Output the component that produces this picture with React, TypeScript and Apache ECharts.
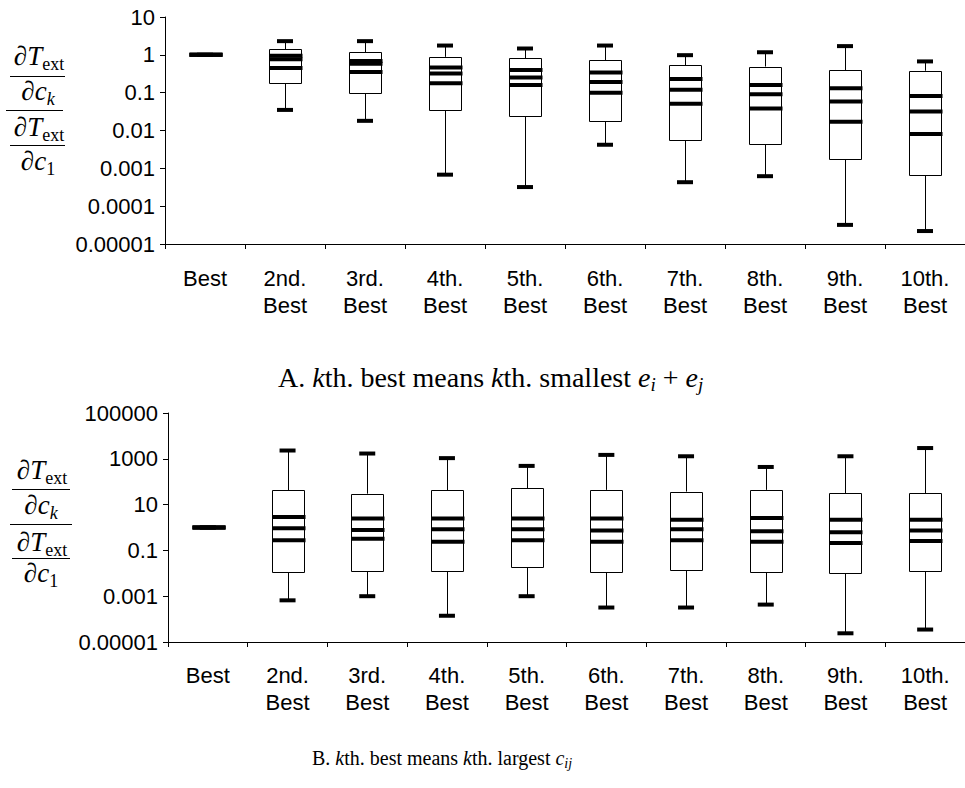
import React, { useEffect, useRef } from "react";
import * as echarts from "echarts";

// ---------- data ----------
const categories = [
  "Best",
  "2nd.\nBest",
  "3rd.\nBest",
  "4th.\nBest",
  "5th.\nBest",
  "6th.\nBest",
  "7th.\nBest",
  "8th.\nBest",
  "9th.\nBest",
  "10th.\nBest",
];

const yTicksA = ["0.00001", "0.0001", "0.001", "0.01", "0.1", "1", "10"];
const yTicksB = ["0.00001", "0.001", "0.1", "10", "1000", "100000"];

// Panel A: kth smallest e_i + e_j
const aCapHigh = [1, 2.3, 2.3, 1.76, 1.47, 1.76, 0.98, 1.17, 1.7, 0.67];
const aBoxHigh = [1, 1.41, 1.18, 0.885, 0.8, 0.72, 0.53, 0.49, 0.39, 0.38];
const aLine1 = [1, 0.94, 0.69, 0.46, 0.4, 0.34, 0.23, 0.16, 0.13, 0.082];
const aLine2 = [1, 0.76, 0.58, 0.32, 0.25, 0.19, 0.12, 0.091, 0.058, 0.032];
const aLine3 = [1, 0.45, 0.35, 0.178, 0.16, 0.1, 0.051, 0.038, 0.017, 0.0081];
const aBoxLow = [1, 0.178, 0.1, 0.035, 0.024, 0.018, 0.0055, 0.0045, 0.0017, 0.00068];
const aCapLow = [1, 0.035, 0.018, 0.00068, 0.00032, 0.0042, 0.00043, 0.00062, 0.000032, 0.000022];

// Panel B: kth largest c_ij
const bCapHigh = [1, 2300, 1700, 1070, 490, 1480, 1290, 440, 1290, 2950];
const bBoxHigh = [1, 42, 30, 42, 51, 44, 37, 44, 32, 32];
const bLine1 = [1, 2.9, 2.5, 2.5, 2.5, 2.5, 2.2, 2.6, 2.2, 2.2];
const bLine2 = [1, 0.92, 0.78, 0.83, 0.83, 0.74, 0.83, 0.68, 0.62, 0.74];
const bLine3 = [1, 0.28, 0.32, 0.24, 0.28, 0.24, 0.28, 0.24, 0.21, 0.26];
const bBoxLow = [1, 0.011, 0.013, 0.012, 0.019, 0.012, 0.0145, 0.012, 0.0098, 0.012];
const bCapLow = [1, 0.00066, 0.001, 0.00014, 0.001, 0.00032, 0.00032, 0.00043, 0.000024, 0.000035];

// ---------- helpers ----------
const toY = (v: number) => Math.log10(v) + 5; // decades above 0.00001

function buildBoxData(
  capHigh: number[],
  boxHigh: number[],
  l1: number[],
  l2: number[],
  l3: number[],
  boxLow: number[],
  capLow: number[]
) {
  return categories.map((_, i) => [
    i,
    toY(capHigh[i]),
    toY(boxHigh[i]),
    toY(l1[i]),
    toY(l2[i]),
    toY(l3[i]),
    toY(boxLow[i]),
    toY(capLow[i]),
  ]);
}

const BOX_W = 32;
const CAP_W = 16;
const THICK = 4;

const renderBox = (_params: any, api: any) => {
  const i = api.value(0);
  const py = (k: number) => api.coord([i, api.value(k)])[1];
  const cx = api.coord([i, api.value(1)])[0];
  const xl = Math.round(cx - BOX_W / 2) + 0.5;
  const xc = Math.round(cx) + 0.5;
  const yCapH = py(1);
  const yBoxH = py(2);
  const yL = [py(3), py(4), py(5)];
  const yBoxL = py(6);
  const yCapL = py(7);
  const children: any[] = [];
  const black = "#000";
  if (yBoxL - yBoxH > 0.5) {
    children.push({
      type: "line",
      shape: { x1: xc, y1: yCapH, x2: xc, y2: yBoxH },
      style: { stroke: black, lineWidth: 1 },
    });
    children.push({
      type: "line",
      shape: { x1: xc, y1: yBoxL, x2: xc, y2: yCapL },
      style: { stroke: black, lineWidth: 1 },
    });
    children.push({
      type: "rect",
      shape: { x: xl, y: Math.round(yBoxH) + 0.5, width: BOX_W, height: Math.round(yBoxL - yBoxH) },
      style: { fill: "#fff", stroke: black, lineWidth: 1 },
    });
  }
  [yCapH, yCapL].forEach((y) => {
    children.push({
      type: "rect",
      shape: { x: cx - CAP_W / 2, y: y - THICK / 2, width: CAP_W, height: THICK },
      style: { fill: black },
    });
  });
  yL.forEach((y) => {
    children.push({
      type: "rect",
      shape: { x: xl, y: y - THICK / 2, width: BOX_W + 1, height: THICK },
      style: { fill: black },
    });
  });
  return { type: "group", children };
};

const SANS = '"Liberation Sans", Arial, Helvetica, sans-serif';
const SERIF = '"Liberation Serif", "Times New Roman", "DejaVu Serif", serif';

const FS = 27; // fraction main font size
const FSS = 18; // fraction subscript font size

function fracText(x: number, y: number, text: string, rich: any) {
  return {
    type: "text",
    x,
    y,
    style: {
      text,
      font: `${FS}px ${SERIF}`,
      fill: "#000",
      align: "center",
      verticalAlign: "middle",
      rich,
    },
  };
}

const fracRich = {
  d: { font: `${FS}px ${SERIF}`, fill: "#000" },
  t: { font: `italic ${FS}px ${SERIF}`, fill: "#000" },
  c: { font: `italic ${FS}px ${SERIF}`, fill: "#000" },
  s: { font: `${FSS}px ${SERIF}`, fill: "#000", padding: [15, 0, 0, 0] },
  si: { font: `italic ${FSS}px ${SERIF}`, fill: "#000", padding: [15, 0, 0, 0] },
};

function hline(x1: number, x2: number, y: number) {
  return {
    type: "line",
    shape: { x1, y1: y + 0.5, x2, y2: y + 0.5 },
    style: { stroke: "#000", lineWidth: 1 },
  };
}

function yTitle(cx: number, pos: number[], lines: number[][]) {
  return [
    fracText(cx + 1, pos[0], "{d|∂}{t|T}{s|ext}", fracRich),
    hline(lines[0][0], lines[0][1], pos[1]),
    fracText(cx, pos[2], "{d|∂}{c|c}{si|k}", fracRich),
    hline(lines[1][0], lines[1][1], pos[3]),
    fracText(cx + 1, pos[4], "{d|∂}{t|T}{s|ext}", fracRich),
    hline(lines[0][0], lines[0][1], pos[5]),
    fracText(cx, pos[6], "{d|∂}{c|c}{s|1}", fracRich),
  ];
}

function capRich(size: number) {
  const sub = Math.round(size * 0.68);
  return {
    i: { font: `italic ${size}px ${SERIF}`, fill: "#000" },
    sub: { font: `italic ${sub}px ${SERIF}`, fill: "#000", padding: [Math.round(size * 0.5), 0, 0, 0] },
  };
}

function makeXAxis(gridIndex: number, margin: number) {
  return {
    type: "category",
    gridIndex,
    data: categories,
    boundaryGap: true,
    axisLine: { show: true, lineStyle: { color: "#000", width: 1 } },
    axisTick: { show: true, length: 5, alignWithLabel: false, lineStyle: { color: "#000" } },
    axisLabel: {
      interval: 0,
      margin,
      fontSize: 22,
      lineHeight: 27,
      color: "#000",
      fontFamily: SANS,
    },
    splitLine: { show: false },
  };
}

function makeYAxis(gridIndex: number, max: number, interval: number, labels: string[]) {
  return {
    type: "value",
    gridIndex,
    min: 0,
    max,
    interval,
    axisLine: { show: true, lineStyle: { color: "#000", width: 1 } },
    axisTick: { show: true, length: 5, lineStyle: { color: "#000" } },
    axisLabel: {
      margin: 10,
      fontSize: 22,
      color: "#000",
      fontFamily: SANS,
      formatter: (v: number) => labels[Math.round(v / interval)] ?? "",
    },
    splitLine: { show: false },
  };
}

export default function App() {
  const ref = useRef<HTMLDivElement>(null);

  useEffect(() => {
    if (!ref.current) return;
    const chart = echarts.init(ref.current, null, { renderer: "svg" });

    const dataA = buildBoxData(aCapHigh, aBoxHigh, aLine1, aLine2, aLine3, aBoxLow, aCapLow);
    const dataB = buildBoxData(bCapHigh, bBoxHigh, bLine1, bLine2, bLine3, bBoxLow, bCapLow);

    chart.setOption({
      animation: false,
      backgroundColor: "#fff",
      grid: [
        { left: 165, top: 17, width: 806, height: 227 },
        { left: 168, top: 413, width: 800, height: 229 },
      ],
      xAxis: [makeXAxis(0, 21), makeXAxis(1, 20)],
      yAxis: [makeYAxis(0, 6, 1, yTicksA), makeYAxis(1, 10, 2, yTicksB)],
      series: [
        {
          type: "custom",
          xAxisIndex: 0,
          yAxisIndex: 0,
          renderItem: renderBox,
          encode: { x: 0, y: [1, 2, 3, 4, 5, 6, 7] },
          data: dataA,
          clip: false,
        },
        {
          type: "custom",
          xAxisIndex: 1,
          yAxisIndex: 1,
          renderItem: renderBox,
          encode: { x: 0, y: [1, 2, 3, 4, 5, 6, 7] },
          data: dataB,
          clip: false,
        },
      ],
      graphic: [
        ...yTitle(38, [56, 76, 91, 110, 127, 145, 161], [[10, 65], [6, 63]]),
        ...yTitle(41, [470, 489, 505, 524, 542, 558, 573], [[12, 70], [10, 72]]),
        {
          type: "text",
          x: 278,
          y: 377,
          style: {
            text: "A. {i|k}th. best means {i|k}th. smallest {i|e}{sub|i} + {i|e}{sub|j}",
            font: `28px ${SERIF}`,
            fill: "#000",
            align: "left",
            verticalAlign: "middle",
            rich: capRich(28),
          },
        },
        {
          type: "text",
          x: 312,
          y: 758,
          style: {
            text: "B. {i|k}th. best means {i|k}th. largest {i|c}{sub|ij}",
            font: `20px ${SERIF}`,
            fill: "#000",
            align: "left",
            verticalAlign: "middle",
            rich: capRich(20),
          },
        },
      ],
    });

    return () => chart.dispose();
  }, []);

  return (
    <div
      ref={ref}
      style={{ position: "fixed", left: 0, top: 0, width: 965, height: 788, background: "#fff" }}
    />
  );
}
